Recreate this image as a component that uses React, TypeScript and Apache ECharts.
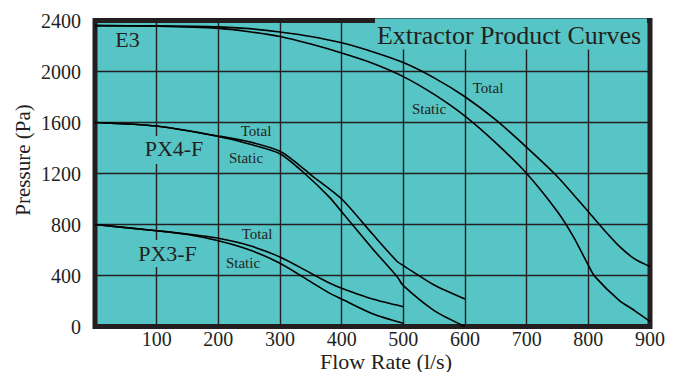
import React, { useEffect, useRef } from "react";
import * as echarts from "echarts";

const xTicks = [0, 100, 200, 300, 400, 500, 600, 700, 800, 900];
const yTicks = [0, 400, 800, 1200, 1600, 2000, 2400];

const e3TotalFlow = [0, 100, 200, 250, 300, 350, 400, 450, 500, 550, 600, 650, 700, 750, 800, 825, 850, 875, 900];
const e3TotalPress = [2360, 2358, 2350, 2336, 2310, 2275, 2225, 2155, 2070, 1950, 1802, 1620, 1405, 1175, 900, 760, 630, 530, 470];

const e3StaticFlow = [0, 100, 200, 250, 300, 350, 400, 450, 500, 550, 600, 650, 700, 750, 775, 800, 810, 850, 875, 900];
const e3StaticPress = [2360, 2355, 2338, 2312, 2275, 2215, 2145, 2065, 1960, 1820, 1650, 1440, 1200, 900, 710, 480, 395, 205, 125, 40];

const px4TotalFlow = [0, 100, 200, 250, 300, 325, 350, 400, 450, 490, 500, 550, 600];
const px4TotalPress = [1600, 1572, 1494, 1449, 1375, 1290, 1190, 1000, 725, 510, 478, 325, 215];

const px4StaticFlow = [0, 100, 200, 250, 300, 340, 380, 400, 450, 490, 500, 550, 600];
const px4StaticPress = [1600, 1572, 1490, 1431, 1355, 1200, 1015, 900, 610, 390, 320, 125, 0];

const px3TotalFlow = [0, 100, 150, 200, 250, 300, 350, 381, 400, 450, 500];
const px3TotalPress = [800, 751, 725, 692, 635, 545, 418, 339, 300, 215, 155];

const px3StaticFlow = [0, 100, 150, 200, 250, 300, 350, 381, 400, 450, 500];
const px3StaticPress = [800, 751, 722, 673, 602, 496, 350, 260, 215, 100, 25];

const FONT = '"Liberation Serif", "Times New Roman", serif';
const INK = "#231f20";
const TEAL = "#57C5C5";

const zip = (xs: number[], ys: number[]) => xs.map((x, i) => [x, ys[i]]);

const txt = (text: string, x: number, y: number, size: number, extra: any = {}) => ({
  type: "text",
  x,
  y,
  z: 10,
  ...extra,
  style: {
    text,
    fontSize: size,
    fontFamily: FONT,
    fill: INK,
    align: "center",
    verticalAlign: "middle",
    textAlign: "center",
    textVerticalAlign: "middle",
  },
});

export default function App() {
  const ref = useRef<HTMLDivElement>(null);
  useEffect(() => {
    if (!ref.current) return;
    const chart = echarts.init(ref.current, null, { renderer: "svg" });
    const line = (name: string, data: number[][]) => ({
      type: "line",
      name,
      data,
      smooth: 0.25,
      showSymbol: false,
      symbol: "none",
      silent: true,
      z: 5,
      lineStyle: { color: "#000", width: 1.6 },
    });
    chart.setOption({
      animation: false,
      grid: {
        left: 95,
        right: 26,
        top: 20.5,
        bottom: 45.5,
        show: true,
        backgroundColor: TEAL,
        borderColor: INK,
        borderWidth: 5,
      },
      xAxis: {
        type: "value",
        min: xTicks[0],
        max: xTicks[xTicks.length - 1],
        interval: 100,
        axisLine: { show: false },
        axisTick: { show: false },
        splitLine: { show: true, lineStyle: { color: INK, width: 1.4 } },
        axisLabel: {
          formatter: (v: number) => (v === 0 ? "" : String(v)),
          fontSize: 20,
          fontFamily: FONT,
          color: INK,
          margin: 2,
        },
      },
      yAxis: {
        type: "value",
        min: yTicks[0],
        max: yTicks[yTicks.length - 1],
        interval: 400,
        axisLine: { show: false },
        axisTick: { show: false },
        splitLine: { show: true, lineStyle: { color: INK, width: 1.4 } },
        axisLabel: {
          formatter: (v: number) => String(v),
          fontSize: 20,
          fontFamily: FONT,
          color: INK,
          margin: 14,
        },
      },
      graphic: [
        { type: "rect", z: 3, shape: { x: 375, y: 18.5, width: 272, height: 31 }, style: { fill: TEAL } },
        { type: "rect", z: 3, shape: { x: 140, y: 136, width: 68, height: 28 }, style: { fill: TEAL } },
        { type: "rect", z: 3, shape: { x: 134, y: 240, width: 67, height: 27 }, style: { fill: TEAL } },
        txt("Extractor Product Curves", 509, 35.5, 26),
        txt("E3", 127.5, 39.5, 22),
        txt("PX4-F", 174, 148, 22),
        txt("PX3-F", 167.5, 253, 22),
        txt("Total", 488, 87.5, 15),
        txt("Static", 429, 109, 15),
        txt("Total", 256, 131, 15),
        txt("Static", 246, 158, 15),
        txt("Total", 257, 234, 15),
        txt("Static", 243, 263, 15),
        txt("Flow Rate (l/s)", 386, 361, 22),
        txt("Pressure (Pa)", 23, 160, 21, { rotation: Math.PI / 2 }),
      ],
      series: [
        line("E3 Total", zip(e3TotalFlow, e3TotalPress)),
        line("E3 Static", zip(e3StaticFlow, e3StaticPress)),
        line("PX4-F Total", zip(px4TotalFlow, px4TotalPress)),
        line("PX4-F Static", zip(px4StaticFlow, px4StaticPress)),
        line("PX3-F Total", zip(px3TotalFlow, px3TotalPress)),
        line("PX3-F Static", zip(px3StaticFlow, px3StaticPress)),
      ],
    });
    return () => chart.dispose();
  }, []);
  return (
    <div
      ref={ref}
      style={{ position: "absolute", left: 0, top: 0, width: 676, height: 372, background: "#fff" }}
    />
  );
}
